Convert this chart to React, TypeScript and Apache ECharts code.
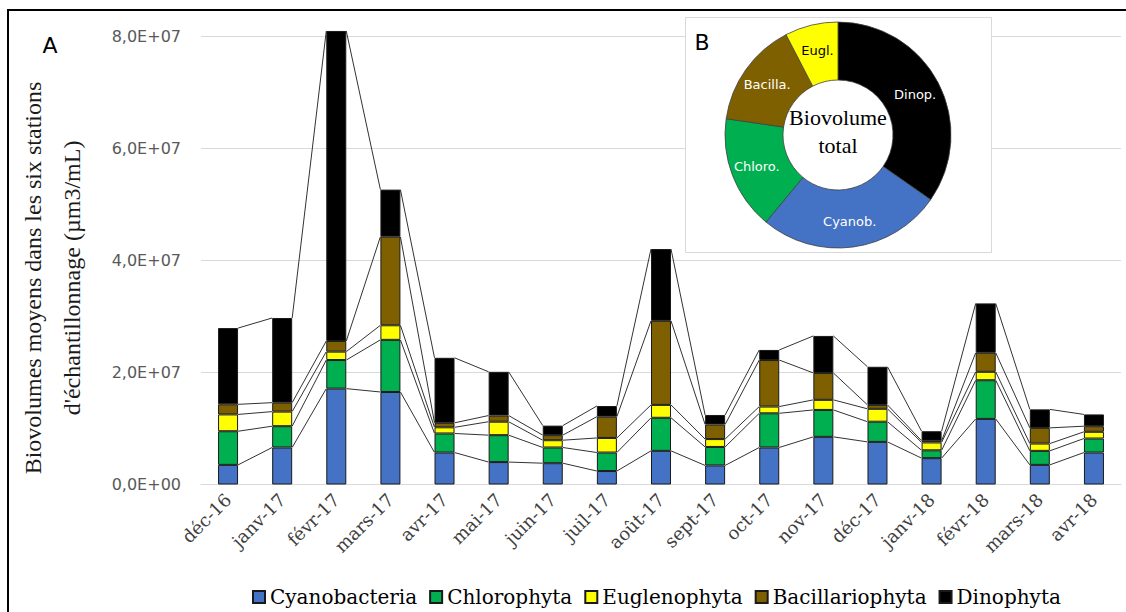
import React, { useEffect, useRef } from "react";
import * as echarts from "echarts";

const categories = ["déc-16", "janv-17", "févr-17", "mars-17", "avr-17", "mai-17", "juin-17", "juil-17", "août-17", "sept-17", "oct-17", "nov-17", "déc-17", "janv-18", "févr-18", "mars-18", "avr-18"];
const yTickLabels = ["0,0E+00", "2,0E+07", "4,0E+07", "6,0E+07", "8,0E+07"];

const cyanobacteria = [3.5e6, 6.6e6, 17.1e6, 16.5e6, 5.7e6, 4.0e6, 3.8e6, 2.4e6, 6.0e6, 3.4e6, 6.6e6, 8.5e6, 7.6e6, 4.7e6, 11.7e6, 3.5e6, 5.7e6];
const chlorophyta = [6.0e6, 3.8e6, 5.1e6, 9.3e6, 3.4e6, 4.8e6, 2.8e6, 3.3e6, 5.9e6, 3.3e6, 6.1e6, 4.8e6, 3.6e6, 1.4e6, 6.9e6, 2.5e6, 2.5e6];
const euglenophyta = [3.0e6, 2.6e6, 1.5e6, 2.6e6, 1.1e6, 2.4e6, 1.3e6, 2.6e6, 2.3e6, 1.4e6, 1.2e6, 1.8e6, 2.3e6, 1.4e6, 1.5e6, 1.3e6, 1.2e6];
const bacillariophyta = [1.8e6, 1.6e6, 1.9e6, 15.8e6, 0.8e6, 1.1e6, 0.9e6, 3.8e6, 15.0e6, 2.6e6, 8.3e6, 4.8e6, 0.7e6, 0.3e6, 3.4e6, 2.8e6, 1.0e6];
const dinophyta = [13.6e6, 15.1e6, 55.3e6, 8.4e6, 11.6e6, 7.8e6, 1.7e6, 1.9e6, 12.8e6, 1.7e6, 1.8e6, 6.6e6, 6.8e6, 1.7e6, 8.8e6, 3.3e6, 2.1e6];

const seriesNames = ["Cyanobacteria", "Chlorophyta", "Euglenophyta", "Bacillariophyta", "Dinophyta"];
const seriesColors = ["#4472C4", "#00B050", "#FFFF00", "#7F6000", "#000000"];

// Donut (B): share of total biovolume, clockwise from 12 o'clock
const pieLabels = ["Dinop.", "Cyanob.", "Chloro.", "Bacilla.", "Eugl."];
const pieValues = [34.7, 26.3, 16.3, 15.1, 7.6];
const pieColors = ["#000000", "#4472C4", "#00B050", "#7F6000", "#FFFF00"];
const pieLabelColors = ["#ffffff", "#ffffff", "#ffffff", "#ffffff", "#000000"];

const BAR_W = 20;

export default function App() {
  const ref = useRef<HTMLDivElement>(null);
  useEffect(() => {
    const chart = echarts.init(ref.current!, null, { renderer: "svg" });
    const stacks = [cyanobacteria, chlorophyta, euglenophyta, bacillariophyta, dinophyta];
    const cum: number[][] = [];
    stacks.forEach((s, k) => {
      cum.push(s.map((v, i) => v + (k > 0 ? cum[k - 1][i] : 0)));
    });

    const barSeries = stacks.map((data, k) => ({
      name: seriesNames[k],
      type: "bar",
      stack: "total",
      data,
      barWidth: BAR_W,
      clip: false,
      z: 3,
      itemStyle: { color: seriesColors[k], borderColor: "#1a1a1a", borderWidth: 1 },
    }));

    const lineSeries = {
      name: "lines",
      type: "custom",
      z: 2,
      silent: true,
      clip: false,
      encode: { x: 0, y: 1 },
      data: categories.slice(0, -1).map((_, i) => [i, 0]),
      renderItem: (params: any, api: any) => {
        const i = api.value(0);
        const children: any[] = [];
        for (let k = 0; k < cum.length; k++) {
          const a = api.coord([i, cum[k][i]]);
          const b = api.coord([i + 1, cum[k][i + 1]]);
          children.push({
            type: "line",
            shape: { x1: a[0] + BAR_W / 2, y1: a[1], x2: b[0] - BAR_W / 2, y2: b[1] },
            style: { stroke: "#333333", lineWidth: 1 },
          });
        }
        return { type: "group", children };
      },
    };

    const pieSeries = {
      name: "Biovolume total",
      type: "pie",
      center: [838, 135],
      radius: [55, 113],
      startAngle: 90,
      clockwise: true,
      z: 10,
      silent: true,
      data: pieLabels.map((n, i) => ({
        name: n,
        value: pieValues[i],
        itemStyle: { color: pieColors[i] },
        label: { color: pieLabelColors[i] },
      })),
      itemStyle: { borderColor: "#404040", borderWidth: 0.8 },
      label: {
        show: true,
        position: "inside",
        formatter: "{b}",
        fontFamily: "DejaVu Sans",
        fontSize: 13,
      },
      labelLine: { show: false },
    };

    chart.setOption({
      animation: false,
      backgroundColor: "#ffffff",
      grid: { left: 201, right: 5, top: 36, bottom: 127.5, containLabel: false },
      xAxis: {
        type: "category",
        data: categories,
        axisLine: { lineStyle: { color: "#d9d9d9", width: 1 } },
        axisTick: { show: false },
        axisLabel: {
          rotate: 45,
          interval: 0,
          margin: 12,
          color: "#404040",
          fontFamily: "DejaVu Serif",
          fontSize: 18,
        },
      },
      yAxis: {
        type: "value",
        min: 0,
        max: 8e7,
        interval: 2e7,
        axisLine: { show: false },
        axisTick: { show: false },
        splitLine: { lineStyle: { color: "#d9d9d9", width: 1 } },
        axisLabel: {
          margin: 20,
          color: "#595959",
          fontFamily: "DejaVu Sans",
          fontSize: 16,
          formatter: (v: number) => yTickLabels[Math.round(v / 2e7)],
        },
      },
      legend: {
        data: seriesNames,
        left: 247,
        top: 582,
        icon: "rect",
        itemWidth: 12,
        itemHeight: 12,
        itemGap: 12,
        textStyle: { fontFamily: "DejaVu Serif", fontSize: 20, color: "#000000" },
      },
      graphic: [
        {
          type: "rect",
          z: 5,
          shape: { x: 8, y: 10, width: 1300, height: 800 },
          style: { fill: "none", stroke: "#000000", lineWidth: 2 },
        },
        {
          type: "rect",
          z: 5,
          shape: { x: 685.5, y: 17.5, width: 306, height: 235 },
          style: { fill: "#ffffff", stroke: "#d9d9d9", lineWidth: 1 },
        },
        {
          type: "text",
          z: 20,
          x: 838,
          y: 131,
          style: {
            text: "Biovolume\ntotal",
            fontFamily: "Liberation Serif",
            fontSize: 22,
            lineHeight: 28,
            fill: "#000000",
            align: "center",
            verticalAlign: "middle",
          },
        },
        {
          type: "text",
          z: 20,
          x: 702,
          y: 42,
          style: { text: "B", fontFamily: "DejaVu Sans", fontSize: 22, fill: "#000000", align: "center", verticalAlign: "middle" },
        },
        {
          type: "text",
          z: 20,
          x: 50,
          y: 45,
          style: { text: "A", fontFamily: "DejaVu Sans", fontSize: 22, fill: "#000000", align: "center", verticalAlign: "middle" },
        },
        {
          type: "text",
          z: 20,
          x: 52,
          y: 278,
          rotation: Math.PI / 2,
          style: {
            text: "Biovolumes moyens dans les six stations\nd'échantillonnage (µm3/mL)",
            fontFamily: "Liberation Serif",
            fontSize: 24,
            lineHeight: 39,
            fill: "#1a1a1a",
            align: "center",
            verticalAlign: "middle",
          },
        },
      ],
      series: [lineSeries, ...barSeries, pieSeries],
    });
    return () => chart.dispose();
  }, []);
  return <div ref={ref} style={{ position: "fixed", left: 0, top: 0, width: 1126, height: 612 }} />;
}
